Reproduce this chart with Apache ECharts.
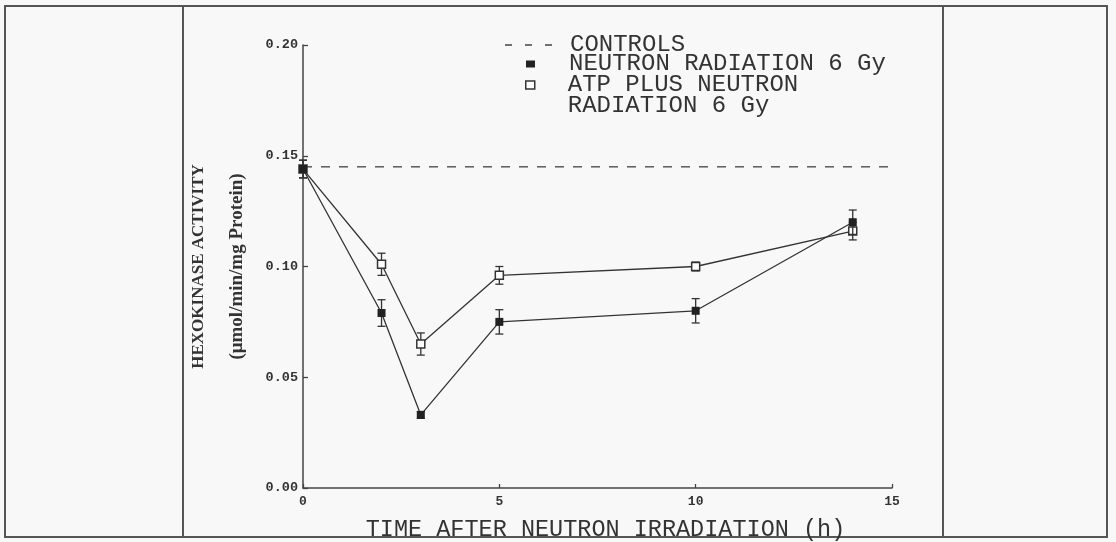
<!DOCTYPE html>
<html>
<head>
<meta charset="utf-8">
<script src="https://cdn.jsdelivr.net/npm/echarts@6/dist/echarts.min.js"></script>
<style>
  html, body { margin: 0; padding: 0; background: #f7f8f7; }
  #chart { width: 1116px; height: 542px; }
</style>
</head>
<body>
<div id="chart"></div>
<script>
// ---- data ----
const times = [0, 2, 3, 5, 10, 14];
const neutron = [0.144, 0.079, 0.033, 0.075, 0.080, 0.120];
const neutronErr = [0.004, 0.006, 0.0015, 0.0055, 0.0055, 0.0055];
const atp = [0.144, 0.101, 0.065, 0.096, 0.100, 0.116];
const atpErr = [0.004, 0.005, 0.005, 0.004, 0.002, 0.004];
const controlValue = 0.145;
const controlRange = [0, 15];
const xTicks = ['0', '5', '10', '15'];
const yTicks = ['0.00', '0.05', '0.10', '0.15', '0.20'];
const seriesNames = ['CONTROLS', 'NEUTRON RADIATION 6 Gy', 'ATP PLUS NEUTRON\nRADIATION 6 Gy'];
const xTitle = 'TIME AFTER NEUTRON IRRADIATION (h)';
const yTitle1 = 'HEXOKINASE ACTIVITY';
const yTitle2 = '(\u03bcmol/min/mg Protein)';

const INK = '#333';
const mono = 'Liberation Mono';

const pts = (ys) => times.map((t, i) => [t, ys[i]]);
const errPts = (ys, es) => times.map((t, i) => [t, ys[i], es[i]]);

function errorBar(params, api) {
  const x = api.value(0), y = api.value(1), e = api.value(2);
  const top = api.coord([x, y + e]);
  const bot = api.coord([x, y - e]);
  const hw = 4;
  const st = { stroke: INK, lineWidth: 1.3 };
  return {
    type: 'group',
    children: [
      { type: 'line', shape: { x1: top[0], y1: top[1], x2: bot[0], y2: bot[1] }, style: st },
      { type: 'line', shape: { x1: top[0] - hw, y1: top[1], x2: top[0] + hw, y2: top[1] }, style: st },
      { type: 'line', shape: { x1: bot[0] - hw, y1: bot[1], x2: bot[0] + hw, y2: bot[1] }, style: st }
    ]
  };
}

const chart = echarts.init(document.getElementById('chart'), null, { renderer: 'canvas' });
chart.setOption({
  animation: false,
  backgroundColor: '#f7f8f7',
  graphic: [
    { type: 'rect', shape: { x: 5, y: 6, width: 1102, height: 531 }, style: { fill: null, stroke: '#555', lineWidth: 2 }, silent: true },
    { type: 'line', shape: { x1: 183, y1: 6, x2: 183, y2: 537 }, style: { stroke: '#555', lineWidth: 2 }, silent: true },
    { type: 'line', shape: { x1: 943, y1: 6, x2: 943, y2: 537 }, style: { stroke: '#555', lineWidth: 2 }, silent: true }
  ],
  grid: { left: 303, right: 224, top: 45, bottom: 54, containLabel: false, outerBoundsMode: 'none' },
  legend: [
    {
      data: [{ name: seriesNames[0], icon: 'path://M0,0h7v1.5h-7zM20,0h7v1.5h-7zM40,0h7v1.5h-7z',
               itemStyle: { color: '#444', borderWidth: 0 } }],
      left: 505, top: 33, padding: 0, itemWidth: 47, itemHeight: 2, selectedMode: false,
      textStyle: { fontFamily: mono, fontSize: 24, color: INK, lineHeight: 22, padding: [0, 0, 0, 13] }
    },
    {
      data: [{ name: seriesNames[1], icon: 'rect', itemStyle: { color: '#222', borderWidth: 0 } }],
      left: 526, top: 52, padding: 0, itemWidth: 9, itemHeight: 7, selectedMode: false,
      textStyle: { fontFamily: mono, fontSize: 24, color: INK, lineHeight: 22, padding: [0, 0, 0, 29] }
    },
    {
      data: [{ name: seriesNames[2], icon: 'rect', itemStyle: { color: '#fff', borderColor: INK, borderWidth: 1.5 } }],
      formatter: (name) => '\n' + name,
      left: 525, top: 52, padding: 0, itemWidth: 9, itemHeight: 8, selectedMode: false,
      textStyle: { fontFamily: mono, fontSize: 24, color: INK, lineHeight: 21, padding: [0, 0, 0, 28] }
    }
  ],
  xAxis: {
    type: 'value', min: 0, max: 15, interval: 5,
    name: xTitle, nameLocation: 'middle', nameGap: 30,
    nameTextStyle: { fontFamily: mono, fontSize: 23.5, color: INK, padding: [0, 0, 0, 16] },
    axisLine: { show: true, lineStyle: { color: '#444', width: 1.5 } },
    axisTick: { show: true, inside: true, length: 4, lineStyle: { color: '#444', width: 1.3 } },
    axisLabel: { fontFamily: mono, fontSize: 13, fontWeight: 'bold', color: INK, margin: 7,
                 formatter: (v) => xTicks[Math.round(v / 5)] },
    splitLine: { show: false }
  },
  yAxis: {
    type: 'value', min: 0, max: 0.2, interval: 0.05,
    name: '{a|' + yTitle1 + '}\n{b|' + yTitle2 + '}',
    nameLocation: 'middle', nameGap: 46, nameRotate: 90,
    nameTextStyle: {
      color: INK,
      rich: {
        a: { fontFamily: 'Liberation Serif', fontSize: 17, fontWeight: 'bold', color: INK, lineHeight: 39 },
        b: { fontFamily: 'Liberation Serif', fontSize: 19, fontWeight: 'bold', color: INK, lineHeight: 39 }
      }
    },
    axisLine: { show: true, lineStyle: { color: '#444', width: 1.5 } },
    axisTick: { show: true, inside: true, length: 5, lineStyle: { color: '#444', width: 1.3 } },
    axisLabel: { fontFamily: mono, fontSize: 13.5, fontWeight: 'bold', color: INK, margin: 5,
                 formatter: (v) => yTicks[Math.round(v / 0.05)] },
    splitLine: { show: false }
  },
  series: [
    {
      name: seriesNames[0], type: 'line', data: controlRange.map(t => [t, controlValue]),
      symbol: 'none', z: 1,
      lineStyle: { color: '#444', width: 1.3, type: [9, 9] },
      itemStyle: { color: '#444' }
    },
    {
      type: 'custom', name: 'atpErr', data: errPts(atp, atpErr), renderItem: errorBar, z: 2, silent: true
    },
    {
      name: seriesNames[2], type: 'line', data: pts(atp), z: 3,
      symbol: 'rect', symbolSize: 8,
      lineStyle: { color: INK, width: 1.3 },
      itemStyle: { color: '#fff', borderColor: INK, borderWidth: 1.5 }
    },
    {
      type: 'custom', name: 'neutronErr', data: errPts(neutron, neutronErr), renderItem: errorBar, z: 4, silent: true
    },
    {
      name: seriesNames[1], type: 'line', data: pts(neutron), z: 5,
      symbol: 'rect', symbolSize: 8,
      lineStyle: { color: INK, width: 1.3 },
      itemStyle: { color: '#222', borderColor: '#222', borderWidth: 0 }
    }
  ]
});
</script>
</body>
</html>
